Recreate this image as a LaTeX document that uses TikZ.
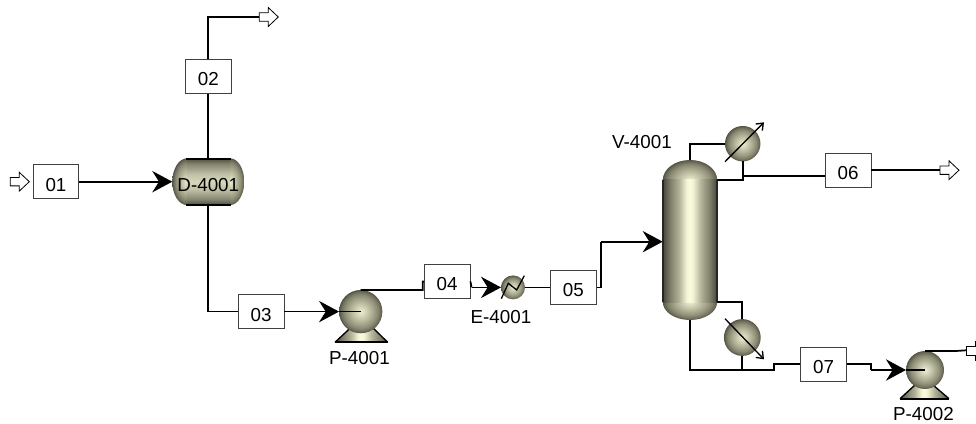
\documentclass[tikz,border=0pt]{standalone}
\usepackage{fontspec}
\setmainfont{Liberation Sans}
\usetikzlibrary{arrows.meta,calc}
\pgfdeclareradialshading{ballshade}{\pgfpoint{0bp}{0bp}}{%
  rgb(0bp)=(.93,.93,.82); rgb(6bp)=(.82,.82,.71); rgb(13bp)=(.68,.68,.58);
  rgb(19bp)=(.55,.55,.46); rgb(23bp)=(.42,.42,.35); rgb(25bp)=(.33,.33,.27); rgb(50bp)=(.33,.33,.27)}
\pgfdeclarehorizontalshading{colshade}{100bp}{%
  rgb(0bp)=(.27,.27,.22); rgb(25bp)=(.27,.27,.22); rgb(32bp)=(.50,.50,.42); rgb(40bp)=(.70,.70,.60);
  rgb(47bp)=(.96,.96,.84); rgb(50bp)=(.98,.98,.87); rgb(53bp)=(.94,.94,.82); rgb(60bp)=(.70,.70,.60);
  rgb(68bp)=(.50,.50,.42); rgb(75bp)=(.27,.27,.22); rgb(100bp)=(.27,.27,.22)}
\pgfdeclareverticalshading{drumshade}{100bp}{%
  rgb(0bp)=(.30,.30,.24); rgb(25bp)=(.30,.30,.24); rgb(31bp)=(.52,.52,.44); rgb(42bp)=(.76,.76,.66);
  rgb(50bp)=(.84,.84,.73); rgb(58bp)=(.76,.76,.66); rgb(69bp)=(.52,.52,.44); rgb(75bp)=(.30,.30,.24); rgb(100bp)=(.30,.30,.24)}
\tikzset{
  pipe/.style={draw=black,line width=1.3pt},
  thinpipe/.style={draw=black,line width=1pt},
  feed/.style={pipe,-{Stealth[length=15pt,width=16pt,inset=5pt]}},
  streambox/.style={draw=black!75,line width=.7pt,fill=white,minimum width=34.2pt,minimum height=25.6pt,
     inner sep=0pt,text height=14.4pt,text depth=0pt,font=\labelfont},
  ioarrow/.style={draw=black,line width=.6pt,fill=white},
  ball/.style={circle,shading=ballshade,inner sep=0pt,outer sep=0pt},
  vessel/.style={rectangle,inner sep=0pt,outer sep=0pt},
  tag/.style={inner sep=0pt,font=\labelfont},
  dial/.style={draw=black,line width=1pt,-{Straight Barb[length=4.5pt,width=7pt]}}
}
\newcommand{\labelfont}{\fontsize{14.1pt}{16pt}\selectfont}
\newcommand{\ioshape}[1]{\draw[ioarrow] (#1) ++(0,-4.2) -- ++(9,0) -- ++(0,-5.2) -- ++(10,9.4) -- ++(-10,9.4) -- ++(0,-5.2) -- ++(-9,0) -- cycle;}
\begin{document}
\begin{tikzpicture}[x=0.75pt,y=-0.75pt]
\useasboundingbox (0,0) rectangle (976,424);

% ---- drum D-4001
\begin{scope}
  \clip (172.3,158.3) rectangle (187,205.1);
  \shade[shading=ballshade] (187,181.7) ellipse [x radius=14.7,y radius=23.4];
\end{scope}
\begin{scope}
  \clip (230,158.3) rectangle (244.3,205.1);
  \shade[shading=ballshade] (230,181.7) ellipse [x radius=14.3,y radius=23.4];
\end{scope}
\shade[shading=drumshade] (186.8,158.3) rectangle (230.2,205.1);
\draw[line width=1.5pt] (186,158.6) -- (231,158.6) (186,204.8) -- (231,204.8);
\node[vessel,minimum width=54pt,minimum height=35.1pt,text height=14.6pt,text depth=0pt,font=\labelfont] (D) at (208.3,181.7) {D-4001};

% ---- column V-4001
\begin{scope}
  \clip (662,159) rectangle (718,180);
  \shade[shading=ballshade] (690,180) ellipse [x radius=27.2,y radius=20];
\end{scope}
\begin{scope}
  \clip (662,302) rectangle (718,321);
  \shade[shading=ballshade] (690,302) ellipse [x radius=27.2,y radius=18];
\end{scope}
\shade[shading=colshade] (662.7,180) rectangle (717.2,302.3);
\draw[black!85,line width=.8pt] (663,180) -- (663,302.3) (717,180) -- (717,302.3);
\node[vessel,minimum width=40.9pt,minimum height=120pt] (V) at (690,240) {};
\node[tag] (Vlabel) at (642,142.3) {V-4001};

% ---- pump bases
\shade[shading=colshade] (335,342.3) -- (351.7,326.7) -- (371.7,326.7) -- (387.7,342.3) -- cycle;
\draw[thinpipe] (351.7,326.7) -- (335,342.3) (371.7,326.7) -- (387.7,342.3);
\draw[line width=1.4pt] (335,342.3) -- (387.7,342.3);
\shade[shading=colshade] (900,398.7) -- (915,385) -- (933,385) -- (949,398.7) -- cycle;
\draw[thinpipe] (915,385) -- (900,398.7) (933,385) -- (949,398.7);
\draw[line width=1.4pt] (900,398.7) -- (949,398.7);

% ---- rotating equipment and exchangers
\node[ball,minimum size=32.5pt] (P1) at (360.7,311.6) {};
\node[tag] (P1label) at (359.5,358.3) {P-4001};
\node[ball,minimum size=28.5pt] (P2) at (925,370) {};
\node[tag] (P2label) at (923.5,414) {P-4002};
\node[ball,minimum size=18pt] (E) at (513,287.4) {};
\node[tag] (Elabel) at (501,316.7) {E-4001};
\node[ball,minimum size=26.6pt] (C) at (742.7,143.7) {};
\node[ball,minimum size=27.6pt] (R) at (742.3,337.5) {};

% ---- stream boxes
\node[streambox] (s01) at (56,181.7) {01};
\node[streambox] (s02) at (208.3,76.2) {02};
\node[streambox] (s03) at (261.2,311.6) {03};
\node[streambox] (s04) at (447.2,281.4) {04};
\node[streambox] (s05) at (573.4,287.4) {05};
\node[streambox] (s06) at (848.2,170.2) {06};
\node[streambox] (s07) at (823.5,364.2) {07};

% ---- free ends
\coordinate (in1) at (10.3,181.7);
\coordinate (out2) at (259.3,17);
\coordinate (out6) at (940,170.2);
\coordinate (out8) at (966,350.3);
\coordinate (a4) at (422.7,289.9);
\coordinate (a4b) at (422.7,281.4);
\coordinate (a4c) at (471.5,287.4);
\coordinate (a5) at (601,287.4);
\coordinate (a5b) at (601,241.7);
\coordinate (vin) at (662.7,241.7);
\coordinate (ctop) at (690,143.7);
\coordinate (vtopr) at (717,180);
\coordinate (j6) at (742.7,175.7);
\coordinate (cb) at (742.7,180);
\coordinate (vbotr) at (717,302.3);
\coordinate (rt) at (742.3,302.3);
\coordinate (bot) at (690,370);
\coordinate (j7) at (774.3,370);
\coordinate (j7b) at (774.3,364.2);
\coordinate (j8) at (870.7,364.2);
\coordinate (j8b) at (870.7,370);
\coordinate (p2top) at (956,351);

% ---- connectors
\ioshape{in1}
\ioshape{out2}
\ioshape{out6}
\draw[pipe] (s02.north) |- (out2);
\draw[pipe] (D.north) -- (s02.south);
\draw[feed] (s01.east) -- (D.west);
\draw[pipe] (D.south) |- (s03.west);
\draw[feed] (s03.east) -- (P1.west);
\draw[thinpipe] (P1.west) -- (P1.center);
\draw[pipe] (P1.north) -- (a4) -- (a4b) -- (s04.west);
\draw[pipe] (s04.east) -- (a4c);
\draw[feed] (a4c) -- (E.west);
\draw[pipe] (E.east) -- (s05.west);
\draw[pipe] (s05.east) -- (a5) -- (a5b);
\draw[feed] (a5b) -- (vin);
\draw[pipe] (V.north) -- (ctop) -- (C.west);
\draw[pipe] (C.south) -- (cb) -- (vtopr);
\draw[pipe] (j6) -- (j6 -| s06.west);
\draw[pipe] (s06.east) -- (out6);
\draw[pipe] (vbotr) -- (rt) -- (R.north);
\draw[pipe] (V.south) -- (bot) -- (j7) -- (j7b) -- (s07.west);
\draw[pipe] (R.south) -- (R.south |- bot);
\draw[pipe] (s07.east) -- (j8) -- (j8b);
\draw[feed] (j8b) -- (P2.west);
\draw[thinpipe] (P2.west) -- (P2.center);
\draw[pipe] (P2.north) -- (p2top |- P2.north) -- (p2top) -- (out8);

% ---- last product arrow, cut by the page edge
\draw[ioarrow] (976,346.8) -- (966,346.8) -- (966,355.2) -- (976,355.2);
\draw[ioarrow] (975.5,341) -- (975.5,346.8) (975.5,355.2) -- (975.5,361);

% ---- exchanger marks
\draw[dial] (725,161.7) -- (764,122.3);
\draw[dial] (725,318.7) -- (764,359.3);
\draw[thinpipe] (501.3,298.7) -- (508.3,283.3) -- (516.7,290) -- (524.3,275.7);
\end{tikzpicture}
\end{document}
